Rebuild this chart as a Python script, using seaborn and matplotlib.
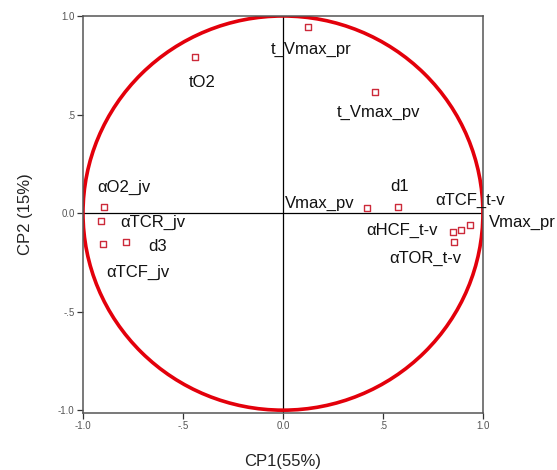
import numpy as np
import pandas as pd
import seaborn as sns
import matplotlib.pyplot as plt
from matplotlib.patches import Circle

# Loadings on the first two components
variables = ["tO2", "t_Vmax_pr", "t_Vmax_pv", "αO2_jv", "αTCR_jv", "αTCF_jv", "d3",
             "Vmax_pv", "d1", "αHCF_t-v", "αTCF_t-v", "Vmax_pr", "αTOR_t-v"]
cp1 = [-0.44, 0.125, 0.46, -0.895, -0.91, -0.90, -0.785,
       0.42, 0.577, 0.85, 0.89, 0.935, 0.855]
cp2 = [0.79, 0.945, 0.614, 0.03, -0.04, -0.155, -0.145,
       0.027, 0.032, -0.098, -0.086, -0.061, -0.146]

# where each name is written (data coords)
label_x = [-0.405, 0.14, 0.48, -0.795, -0.65, -0.725, -0.625,
           0.185, 0.585, 0.595, 0.935, 1.195, 0.71]
label_y = [0.665, 0.83, 0.51, 0.13, -0.045, -0.30, -0.17,
           0.05, 0.135, -0.09, 0.065, -0.045, -0.23]

df = pd.DataFrame({"var": variables, "CP1": cp1, "CP2": cp2})

sns.set_style("white")
plt.rcParams['font.family'] = ['Liberation Sans', 'DejaVu Sans']

fig = plt.figure(figsize=(5.57, 4.70), dpi=100)
ax = fig.add_axes([0.149, 0.121, 0.718, 0.845])

# unit circle
ax.add_patch(Circle((0, 0), 1.0, fill=False, edgecolor="#e3000b", linewidth=2.6, zorder=2))
ax.axhline(0, color="black", linewidth=0.9, zorder=1)
ax.axvline(0, color="black", linewidth=0.9, zorder=1)

sns.scatterplot(data=df, x="CP1", y="CP2", marker="s", s=20,
                facecolor="none", edgecolor="#cc2a3a", linewidth=1.0, ax=ax, zorder=3)

for name, lx, ly in zip(variables, label_x, label_y):
    ax.text(lx, ly, name, fontsize=12, ha="center", va="center", color="#111111",
            clip_on=False)

ax.set_xlim(-1.0, 1.0)
ax.set_ylim(-1.015, 1.0)
ticks = [-1.0, -0.5, 0.0, 0.5, 1.0]
tick_labels = ["-1.0", "-.5", "0.0", ".5", "1.0"]
ax.set_xticks(ticks)
ax.set_xticklabels(tick_labels)
ax.set_yticks(ticks)
ax.set_yticklabels(tick_labels)
ax.tick_params(axis="both", direction="out", length=4, width=0.9, colors="#333333",
               labelsize=7, pad=2, bottom=True, left=True)
ax.tick_params(axis="both", labelcolor="#555555")

for side in ["left", "bottom", "top", "right"]:
    ax.spines[side].set_color("#555555")
    ax.spines[side].set_linewidth(1.1)

ax.set_xlabel("CP1(55%)", fontsize=12, labelpad=16, color="#222222")
ax.set_ylabel("CP2 (15%)", fontsize=12, labelpad=18, color="#222222")

plt.savefig("out.png", dpi=100)
plt.close()
